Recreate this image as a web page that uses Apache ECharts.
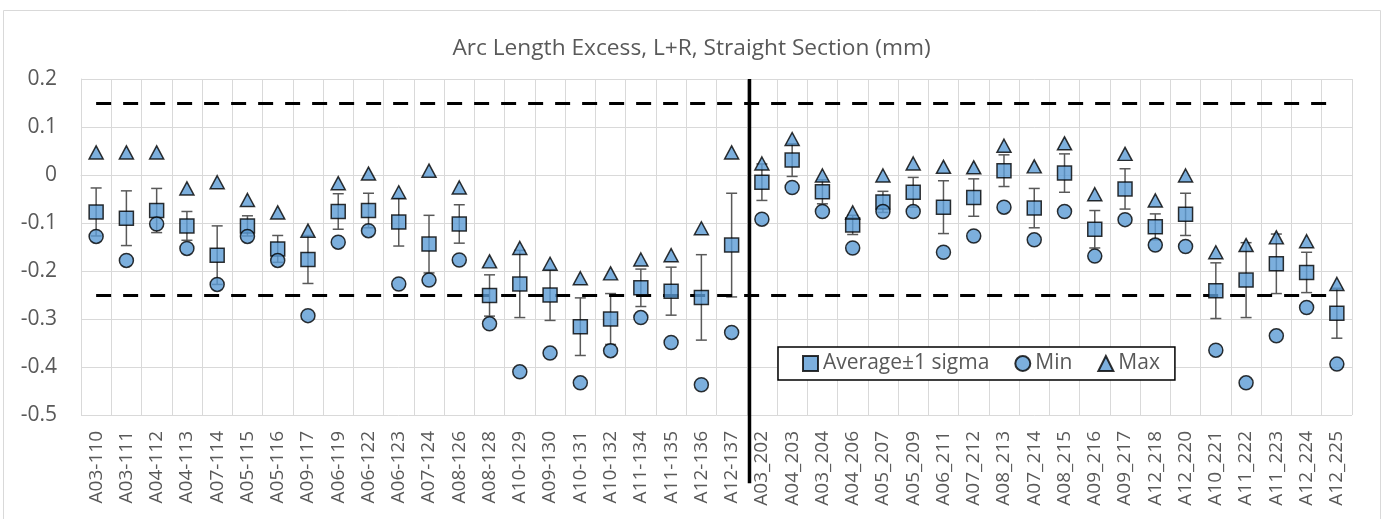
<!DOCTYPE html>
<html>
<head>
<meta charset="utf-8">
<script src="https://cdn.jsdelivr.net/npm/echarts@6/dist/echarts.min.js"></script>
<style>html,body{margin:0;padding:0;background:#fff;}#c{width:1383px;height:519px;}</style>
</head>
<body>
<div id="c"></div>
<script>
const categories = ['A03-110','A03-111','A04-112','A04-113','A07-114','A05-115','A05-116','A09-117','A06-119','A06-122','A06-123','A07-124','A08-126','A08-128','A10-129','A09-130','A10-131','A10-132','A11-134','A11-135','A12-136','A12-137',
  'A03_202','A04_203','A03_204','A04_206','A05_207','A05_209','A06_211','A07_212','A08_213','A07_214','A08_215','A09_216','A09_217','A12_218','A12_220','A10_221','A11_222','A11_223','A12_224','A12_225'];
const avgValues = [-0.077,-0.090,-0.074,-0.106,-0.167,-0.106,-0.154,-0.176,-0.076,-0.074,-0.098,-0.144,-0.102,-0.251,-0.227,-0.250,-0.316,-0.300,-0.235,-0.242,-0.255,-0.146,
  -0.015,0.031,-0.035,-0.104,-0.056,-0.036,-0.067,-0.047,0.009,-0.069,0.004,-0.113,-0.029,-0.108,-0.082,-0.241,-0.219,-0.185,-0.203,-0.288];
const sigmaValues = [0.050,0.057,0.046,0.030,0.061,0.021,0.028,0.050,0.037,0.036,0.050,0.060,0.040,0.043,0.070,0.053,0.060,0.053,0.039,0.050,0.089,0.108,
  0.038,0.034,0.025,0.020,0.022,0.031,0.055,0.039,0.033,0.041,0.040,0.039,0.042,0.027,0.044,0.058,0.078,0.062,0.042,0.052];
const minValues = [-0.128,-0.178,-0.102,-0.153,-0.228,-0.128,-0.178,-0.293,-0.140,-0.116,-0.227,-0.219,-0.177,-0.310,-0.410,-0.371,-0.433,-0.366,-0.297,-0.349,-0.437,-0.328,
  -0.092,-0.026,-0.076,-0.152,-0.076,-0.076,-0.161,-0.127,-0.067,-0.135,-0.076,-0.169,-0.093,-0.146,-0.149,-0.365,-0.433,-0.335,-0.276,-0.394];
const maxValues = [0.047,0.047,0.047,-0.028,-0.015,-0.052,-0.078,-0.116,-0.017,0.003,-0.036,0.009,-0.026,-0.180,-0.152,-0.185,-0.215,-0.205,-0.176,-0.167,-0.111,0.047,
  0.024,0.075,-0.001,-0.078,-0.001,0.024,0.017,0.016,0.061,0.018,0.066,-0.040,0.044,-0.053,-0.001,-0.161,-0.146,-0.130,-0.138,-0.227];
const upperLimit = 0.15;
const lowerLimit = -0.25;
const yMin = -0.5, yMax = 0.2, yInterval = 0.1;
const dividerAfter = 22; // group boundary: after A12-137
const dividerBottom = -0.642;

const FONT = 'Open Sans';
const BLUE = '#5B9BD5';
const GRAY = '#595959';
const GRID = '#d9d9d9';

const chart = echarts.init(document.getElementById('c'), null, {renderer: 'canvas'});
const errData = categories.map((c, i) => [i, avgValues[i] - sigmaValues[i], avgValues[i] + sigmaValues[i]]);

chart.setOption({
  animation: false,
  backgroundColor: '#fff',
  textStyle: {fontFamily: FONT},
  title: {
    text: 'Arc Length Excess, L+R, Straight Section (mm)',
    left: 'center', top: 37, padding: 0,
    textStyle: {fontFamily: FONT, fontSize: 22.7, fontWeight: 'normal', color: GRAY}
  },
  graphic: [{
    type: 'rect', shape: {x: 3.5, y: 10.5, width: 1377, height: 520},
    style: {fill: 'none', stroke: GRID, lineWidth: 1}, silent: true, z: -10
  }],
  legend: {
    left: 778, top: 347,
    data: ['Average±1 sigma', 'Min', 'Max'],
    itemWidth: 15, itemHeight: 15, itemGap: 25,
    padding: [6, 15, 6, 24],
    borderColor: '#000', borderWidth: 1.5,
    backgroundColor: '#fff',
    textStyle: {fontFamily: FONT, fontSize: 21, color: GRAY}
  },
  grid: {left: 81, right: 31, top: 79, bottom: 104, containLabel: false},
  xAxis: [{
    type: 'category', data: categories, boundaryGap: true,
    axisTick: {show: false},
    axisLine: {lineStyle: {color: GRID, width: 1}},
    splitLine: {show: true, lineStyle: {color: GRID, width: 1}},
    axisLabel: {rotate: 90, interval: 0, margin: 16, color: GRAY, fontFamily: FONT, fontSize: 19}
  }, {
    type: 'value', min: 0, max: categories.length, show: false
  }],
  yAxis: {
    type: 'value', min: yMin, max: yMax, interval: yInterval,
    axisLine: {show: true, lineStyle: {color: GRID}},
    axisTick: {show: false},
    splitLine: {lineStyle: {color: GRID, width: 1}},
    axisLabel: {margin: 24, color: GRAY, fontFamily: FONT, fontSize: 21,
      formatter: v => String(Math.round(v * 10) / 10)}
  },
  series: [
    {
      name: 'limits', type: 'line', data: [], silent: true,
      markLine: {
        symbol: 'none', silent: true, label: {show: false},
        lineStyle: {color: '#000', width: 3, type: [15, 12]},
        data: [
          [{coord: [categories[0], upperLimit]}, {coord: [categories[categories.length - 1], upperLimit]}],
          [{coord: [categories[0], lowerLimit]}, {coord: [categories[categories.length - 1], lowerLimit]}]
        ]
      },
      z: 2
    },
    {
      name: 'divider', type: 'line', xAxisIndex: 1, clip: false, silent: true,
      data: [[dividerAfter + 0.09, yMax], [dividerAfter + 0.09, dividerBottom]],
      symbol: 'none', lineStyle: {color: '#000', width: 3.5}, z: 3
    },
    {
      name: 'err', type: 'custom', silent: true, z: 4,
      data: errData,
      encode: {x: 0, y: [1, 2]},
      renderItem: function (params, api) {
        const x = api.value(0);
        const lo = api.coord([x, api.value(1)]);
        const hi = api.coord([x, api.value(2)]);
        const half = 5.5;
        const st = {stroke: GRAY, lineWidth: 1.5};
        return {
          type: 'group',
          children: [
            {type: 'line', shape: {x1: lo[0], y1: lo[1], x2: hi[0], y2: hi[1]}, style: st},
            {type: 'line', shape: {x1: lo[0] - half, y1: lo[1], x2: lo[0] + half, y2: lo[1]}, style: st},
            {type: 'line', shape: {x1: hi[0] - half, y1: hi[1], x2: hi[0] + half, y2: hi[1]}, style: st}
          ]
        };
      }
    },
    {
      name: 'Average±1 sigma', type: 'scatter', data: avgValues, z: 5,
      symbol: 'rect', symbolSize: 14,
      itemStyle: {color: BLUE, borderColor: '#000', borderWidth: 1.5}
    },
    {
      name: 'Min', type: 'scatter', data: minValues, z: 6,
      symbol: 'circle', symbolSize: 14,
      itemStyle: {color: BLUE, borderColor: '#000', borderWidth: 1.5}
    },
    {
      name: 'Max', type: 'scatter', data: maxValues, z: 7,
      symbol: 'triangle', symbolSize: [14, 13],
      itemStyle: {color: BLUE, borderColor: '#000', borderWidth: 1.5}
    }
  ]
});
</script>
</body>
</html>
